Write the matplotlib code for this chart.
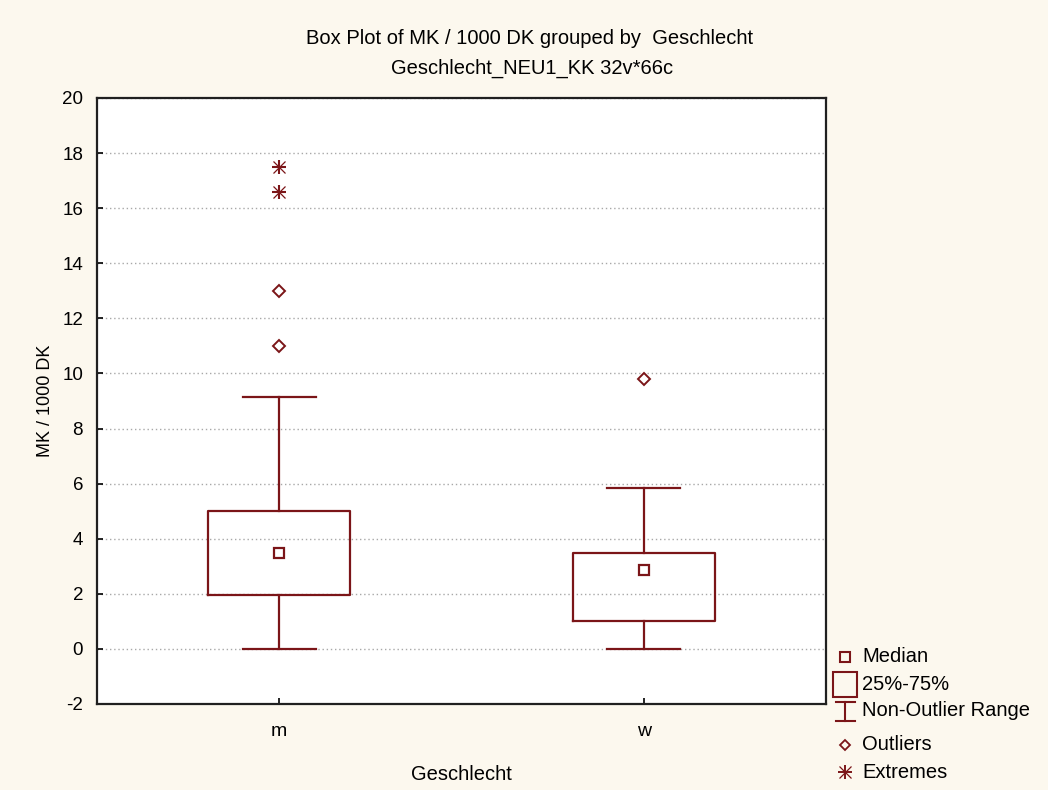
import matplotlib.pyplot as plt
from matplotlib.lines import Line2D
from matplotlib.patches import Rectangle

# data
groups = ["m", "w"]
medians = [3.5, 2.85]
q1 = [1.95, 1.0]
q3 = [5.0, 3.5]
whisk_lo = [0.0, 0.0]
whisk_hi = [9.15, 5.85]
outliers = [[13.0, 11.0], [9.8]]
extremes = [[17.5, 16.6], []]

RED = "#7b1518"
BG = "#fcf8ee"
TXT = 14.5
plt.rcParams["font.family"] = ["Liberation Sans", "DejaVu Sans"]
plt.rcParams["font.size"] = TXT
plt.rcParams["axes.unicode_minus"] = False

fig = plt.figure(figsize=(10.48, 7.9), dpi=100, facecolor=BG)
ax = fig.add_axes([97 / 1048, 1 - 704 / 790, 729 / 1048, 606 / 790])
ax.set_facecolor("white")

pos = [1, 2]
stats = [
    dict(med=medians[i], q1=q1[i], q3=q3[i], whislo=whisk_lo[i],
         whishi=whisk_hi[i], fliers=[], label=groups[i])
    for i in range(len(groups))
]
ax.bxp(stats, positions=pos, widths=0.39, showfliers=False,
       boxprops=dict(color=RED, linewidth=1.6),
       whiskerprops=dict(color=RED, linewidth=1.6),
       capprops=dict(color=RED, linewidth=1.6),
       medianprops=dict(linewidth=0), capwidths=0.2, zorder=3)

ax.plot(pos, medians, ls="none", marker="s", ms=7.5, mfc="none",
        mec=RED, mew=1.6, zorder=4)
for p, vals in zip(pos, outliers):
    ax.plot([p] * len(vals), vals, ls="none", marker="D", ms=6.5,
            mfc="none", mec=RED, mew=1.4, zorder=4)
for p, vals in zip(pos, extremes):
    if vals:
        ax.plot([p] * len(vals), vals, ls="none", marker="+", ms=10,
                mec=RED, mew=1.5, zorder=4)
        ax.plot([p] * len(vals), vals, ls="none", marker="x", ms=8,
                mec=RED, mew=0.9, zorder=4)

ax.set_xlim(0.5, 2.5)
ax.set_ylim(-2, 20)
ax.set_yticks(range(-2, 21, 2))
ax.set_xticks(pos)
ax.set_xticklabels(groups)
ax.tick_params(direction="in", length=4, width=1.2, labelsize=13.5, pad=10)
ax.tick_params(axis="x", pad=14, labelsize=14)
ax.yaxis.grid(True, color="#a8a8a8", linestyle=(0, (1, 2)), linewidth=1)
ax.set_axisbelow(True)
for s in ax.spines.values():
    s.set_linewidth(1.6)
    s.set_color("#202020")

ax.set_ylabel("MK / 1000 DK", fontsize=13, labelpad=6)
ax.set_xlabel("Geschlecht", fontsize=TXT, labelpad=18)

fig.text(530 / 1048, 1 - 38 / 790, "Box Plot of MK / 1000 DK grouped by  Geschlecht",
         ha="center", va="center", fontsize=TXT)
fig.text(532 / 1048, 1 - 68 / 790, "Geschlecht_NEU1_KK 32v*66c",
         ha="center", va="center", fontsize=TXT)


# legend, drawn in pixel coordinates of the figure
def fx(x):
    return x / 1048


def fy(y):
    return 1 - y / 790


def leg_marker(x, y, **kw):
    fig.add_artist(Line2D([fx(x)], [fy(y)], ls="none", color=RED, **kw))


tx = 862
leg_marker(845, 657, marker="s", ms=7, mfc="none", mec=RED, mew=1.5)
fig.text(fx(tx), fy(657), "Median", va="center", fontsize=TXT)

fig.add_artist(Rectangle((fx(833), fy(697)), 24 / 1048, 25 / 790,
                         fill=False, ec=RED, lw=1.5, transform=fig.transFigure))
fig.text(fx(tx), fy(685), "25%-75%", va="center", fontsize=TXT)

fig.add_artist(Line2D([fx(845), fx(845)], [fy(702), fy(721)], color=RED, lw=1.5))
fig.add_artist(Line2D([fx(836), fx(855)], [fy(702), fy(702)], color=RED, lw=1.5))
fig.add_artist(Line2D([fx(836), fx(855)], [fy(721), fy(721)], color=RED, lw=1.5))
fig.text(fx(tx), fy(711), "Non-Outlier Range", va="center", fontsize=TXT)

leg_marker(845, 745, marker="D", ms=5.5, mfc="none", mec=RED, mew=1.3)
fig.text(fx(tx), fy(745), "Outliers", va="center", fontsize=TXT)

leg_marker(845, 772, marker="+", ms=10, mec=RED, mew=1.4)
leg_marker(845, 772, marker="x", ms=8, mec=RED, mew=0.9)
fig.text(fx(tx), fy(772), "Extremes", va="center", fontsize=TXT)

fig.savefig("out.png", dpi=100, facecolor=BG)
